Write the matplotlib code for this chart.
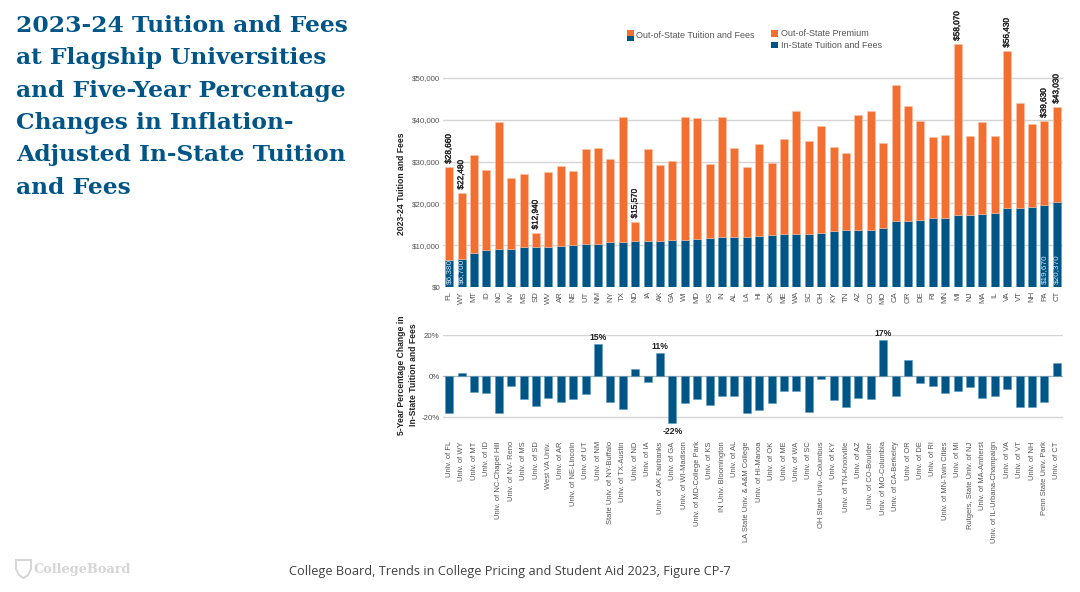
import matplotlib
matplotlib.use("Agg")
import matplotlib.pyplot as plt
import matplotlib.patheffects as pe
from matplotlib.patches import Rectangle, PathPatch
from matplotlib.path import Path

states = ["FL","WY","MT","ID","NC","NV","MS","SD","WV","AR","NE","UT","NM","NY","TX","ND","IA","AK","GA","WI",
          "MD","KS","IN","AL","LA","HI","OK","ME","WA","SC","OH","KY","TN","AZ","CO","MO","CA","OR","DE","RI",
          "MN","MI","NJ","MA","IL","VA","VT","NH","PA","CT"]
universities = ["Univ. of FL","Univ. of WY","Univ. of MT","Univ. of ID","Univ. of NC-Chapel Hill","Univ. of NV- Reno",
    "Univ. of MS","Univ. of SD","West VA Univ.","Univ. of AR","Univ. of NE-Lincoln","Univ. of UT","Univ. of NM",
    "State Univ. of NY-Buffalo","Univ. of TX-Austin","Univ. of ND","Univ. of IA","Univ. of AK Fairbanks","Univ. of GA",
    "Univ. of WI-Madison","Univ. of MD-College Park","Univ. of KS","IN Univ. Bloomington","Univ. of AL",
    "LA State Univ. & A&M College","Univ. of HI-Manoa","Univ. of OK","Univ. of ME","Univ. of WA","Univ. of SC",
    "OH State Univ.-Columbus","Univ. of KY","Univ. of TN-Knoxville","Univ. of AZ","Univ. of CO-Boulder",
    "Univ. of MO-Columbia","Univ. of CA-Berkeley","Univ. of OR","Univ. of DE","Univ. of RI","Univ. of MN-Twin Cities",
    "Univ. of MI","Rutgers, State Univ. of NJ","Univ. of MA-Amherst","Univ. of IL-Urbana-Champaign","Univ. of VA",
    "Univ. of VT","Univ. of NH","Penn State Univ. Park","Univ. of CT"]
in_state = [6380,6700,8130,8930,9010,9000,9490,9490,9650,9810,10050,10290,10370,10770,10850,10930,10930,10970,11160,11200,
            11560,11720,11880,11960,12000,12280,12520,12680,12700,12720,12920,13320,13560,13640,13680,14190,15710,15790,16110,16430,
            16510,17300,17300,17390,17620,18820,18900,19140,19670,20370]
out_of_state = [28660,22480,31650,28070,39400,26080,27030,12940,27430,28870,27750,33090,33250,30620,40670,15570,32930,29100,30220,40670,
                40430,29500,40590,33250,28700,34290,29590,35400,42030,35000,38440,33490,32060,41070,42020,34370,48240,43380,39790,35880,
                36440,58070,36040,39390,36200,56430,43940,38920,39630,43030]
pct_change = [-18,1.7,-7.7,-8,-18,-4.8,-11,-14.6,-10.8,-12.5,-11,-8.6,15.4,-12.5,-16,3.3,-3,11.4,-22.6,-13,
              -11,-14,-9.5,-9.5,-18,-16.5,-13,-7.3,-7.4,-17.7,-1.4,-11.6,-15,-10.8,-11,17.4,-9.8,8,-3.5,-4.8,
              -8,-7.3,-5.5,-10.6,-9.9,-6.5,-15.2,-15.2,-12.6,6.3]
labelled_top = ["FL","WY","SD","ND","MI","VA","PA","CT"]
labelled_inside = ["FL","WY","PA","CT"]
labelled_pct = ["NM","AK","GA","MO"]
title_lines = ["2023-24 Tuition and Fees","at Flagship Universities","and Five-Year Percentage",
               "Changes in Inflation-","Adjusted In-State Tuition","and Fees"]

BLUE = "#005587"; ORANGE = "#F26E31"; EDGE_B = "#5f9cc0"; EDGE_O = "#fbc3a6"
GRID = "#d4d4d4"; TICK = "#555555"
W, H = 1080, 592
plt.rcParams["font.family"] = ["Liberation Sans", "DejaVu Sans"]
fig = plt.figure(figsize=(W/100, H/100), dpi=100, facecolor="white")

def box(l, t, r, b):
    return [l/W, 1-b/H, (r-l)/W, (b-t)/H]

x = list(range(len(states)))
premium = [o-i for o, i in zip(out_of_state, in_state)]
thick = [pe.withStroke(linewidth=0.25, foreground="#222222")]

# upper chart
ax = fig.add_axes(box(443, 36.2, 1063, 287))
ax.bar(x, in_state, width=0.66, color=BLUE, edgecolor=EDGE_B, linewidth=0.4, zorder=3)
ax.bar(x, premium, bottom=in_state, width=0.66, color=ORANGE, edgecolor=EDGE_O, linewidth=0.4, zorder=3)
ax.set_xlim(-0.5, 49.5); ax.set_ylim(0, 60000)
ax.set_yticks(range(0, 50001, 10000))
ax.set_yticklabels([f"${v:,}" for v in range(0, 50001, 10000)], fontsize=5.7, color=TICK)
ax.set_xticks(x); ax.set_xticklabels(states, rotation=90, fontsize=5.6, color=TICK)
ax.tick_params(length=0, pad=2)
ax.tick_params(axis="x", pad=3)
ax.grid(axis="y", color=GRID, linewidth=1, zorder=0); ax.set_axisbelow(True)
for s in ax.spines.values(): s.set_visible(False)
for st in labelled_top:
    i = states.index(st)
    ax.annotate(f"${out_of_state[i]:,}", (i, out_of_state[i]), xytext=(0, 2.5), textcoords="offset points",
                rotation=90, ha="center", va="bottom", fontsize=5.9, color="#222222", annotation_clip=False,
                zorder=5, path_effects=thick)
for st in labelled_inside:
    i = states.index(st)
    ax.annotate(f"${in_state[i]:,}", (i, 0), xytext=(0, 2), textcoords="offset points",
                rotation=90, ha="center", va="bottom", fontsize=5.9, color="#cfe4f2", zorder=5)
fig.text(402/W, 1-184/H, "2023-24 Tuition and Fees", rotation=90, ha="center", va="center",
         fontsize=6.2, fontweight="bold", color="#222222")

# lower chart
ax2 = fig.add_axes(box(443, 335, 1063, 425.4))
ax2.bar(x, pct_change, width=0.66, color=BLUE, edgecolor=EDGE_B, linewidth=0.4, zorder=3)
ax2.set_xlim(-0.5, 49.5); ax2.set_ylim(-24, 20)
ax2.set_yticks([-20, 0, 20]); ax2.set_yticklabels(["-20%", "0%", "20%"], fontsize=5.7, color=TICK)
ax2.set_xticks(x); ax2.set_xticklabels(universities, rotation=90, fontsize=5.4, color=TICK)
ax2.tick_params(length=0, pad=2.5)
ax2.tick_params(axis="x", pad=11.5)
ax2.grid(axis="y", color=GRID, linewidth=1, zorder=0); ax2.set_axisbelow(True)
ax2.axhline(0, color="#b5b5b5", linewidth=0.8, zorder=2)
for s in ax2.spines.values(): s.set_visible(False)
for st in labelled_pct:
    i = states.index(st)
    v = pct_change[i]
    ax2.annotate(f"{int(v) if v > 0 else -22}%", (i, v), xytext=(0, 1.5 if v > 0 else -3), textcoords="offset points",
                 ha="center", va="bottom" if v > 0 else "top", fontsize=6.2, fontweight="bold", color="#222222",
                 annotation_clip=False, zorder=5)
fig.text(407.5/W, 1-375/H, "5-Year Percentage Change in\nIn-State Tuition and Fees", rotation=90, ha="center", va="center",
         fontsize=6.2, fontweight="bold", color="#222222", linespacing=1.35)

# legend
def swatch(l, t, r, b, c):
    fig.add_artist(Rectangle((l/W, 1-b/H), (r-l)/W, (b-t)/H, transform=fig.transFigure, facecolor=c, edgecolor="none"))
swatch(626.5, 30, 633.5, 36, ORANGE); swatch(626.5, 36, 633.5, 41, BLUE)
fig.text(636/W, 1-35/H, "Out-of-State Tuition and Fees", fontsize=6.5, color=TICK, va="center")
swatch(771, 30, 778, 36.5, ORANGE); swatch(771, 42, 778, 48, BLUE)
fig.text(781/W, 1-33/H, "Out-of-State Premium", fontsize=6.45, color=TICK, va="center")
fig.text(781/W, 1-45/H, "In-State Tuition and Fees", fontsize=6.45, color=TICK, va="center")

# title
for k, line in enumerate(title_lines):
    fig.text(16/W, 1-(25.5+32.5*k)/H, line, fontsize=16.8, fontweight="bold", family="DejaVu Serif",
             color=BLUE, va="center", ha="left")

# footer
fig.text(289/W, 1-572/H, "College Board, Trends in College Pricing and Student Aid 2023, Figure CP-7",
         fontsize=9.2, family="Open Sans", color="#404040", va="center")
fig.text(33/W, 1-569/H, "CollegeBoard", fontsize=9.3, fontweight="bold", family="DejaVu Serif", color="#d5d5d5", va="center")
verts = [(16,560),(31,560),(31,569),(28,575),(23.5,578),(19,575),(16,569),(16,560)]
shield = Path([(a/W, 1-b/H) for a, b in verts], closed=True)
fig.add_artist(PathPatch(shield, transform=fig.transFigure, facecolor="none", edgecolor="#d5d5d5", linewidth=1.4))

fig.savefig("out.png", dpi=100, facecolor="white")
